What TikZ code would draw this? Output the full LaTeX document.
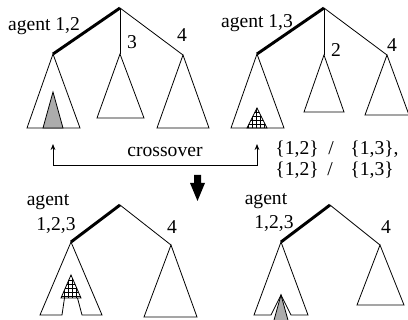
\documentclass[tikz,border=0pt]{standalone}
\usepackage{fontspec}
\setmainfont{Liberation Serif}
\usetikzlibrary{patterns,arrows.meta}
\begin{document}
\begin{tikzpicture}[x=0.75pt,y=-0.75pt,line width=0.6pt,line join=miter,
  heavy/.style={line width=2.2pt},
  lbl/.style={anchor=base,inner sep=0pt,font=\fontsize{14.7}{17}\selectfont},
  grey/.style={fill=gray!65,draw=black},
  grid hatch/.style={pattern=grid,draw=black},
  smallarr/.style={-{Stealth[length=4.5pt,width=3.5pt]}}]
\useasboundingbox (0,0) rectangle (408,320);
\clip (0,0) rectangle (408,320);
% ---------- top-left tree ----------
\coordinate (r1) at (120,8);
\coordinate (a1) at (53,54);
\coordinate (b1) at (120,54);
\coordinate (c1) at (183,55);
\draw[heavy] (r1) -- (a1);
\draw (r1) -- (b1);
\draw (r1) -- (c1);
\draw (a1) -- (27,128) -- (80,128) -- cycle;
\draw[grey] (53,92) -- (43,128) -- (63,128) -- cycle;
\draw (b1) -- (97,118) -- (144,118) -- cycle;
\draw (c1) -- (157,128) -- (209,128) -- cycle;
\node[lbl] (t1) at (44,31) {agent 1,2};
\node[lbl] (t1b) at (132,49) {3};
\node[lbl] (t1c) at (182,42) {4};
% ---------- top-right tree ----------
\coordinate (r2) at (324,8);
\coordinate (a2) at (257,54);
\coordinate (b2) at (324,55);
\coordinate (c2) at (387,55);
\draw[heavy] (r2) -- (a2);
\draw (r2) -- (b2);
\draw (r2) -- (c2);
\draw (a2) -- (231,128) -- (284,128) -- cycle;
\draw[grid hatch] (257,108) -- (247,128) -- (267,128) -- cycle;
\draw (b2) -- (304,112) -- (344,112) -- cycle;
\draw (c2) -- (365,115) -- (409,115) -- cycle;
\node[lbl] (t2) at (257,28) {agent 1,3};
\node[lbl] (t2b) at (336,57) {2};
\node[lbl] (t2c) at (392,52) {4};
% ---------- crossover ----------
\coordinate (xl) at (53,144);
\coordinate (xr) at (257,144);
\draw[smallarr] (53,165) -- (xl);
\draw[smallarr] (53,165) -- (257,165) -- (xr);
\node[lbl] (xo) at (165,157) {crossover};
\node[lbl,anchor=base west] (s1a) at (275,155) {\{1,2\}};
\node[lbl] (s1b) at (331,155) {/};
\node[lbl,anchor=base west] (s1c) at (350,155) {\{1,3\},};
\node[lbl,anchor=base west] (s2a) at (275,176) {\{1,2\}};
\node[lbl] (s2b) at (330,176) {/};
\node[lbl,anchor=base west] (s2c) at (350,176) {\{1,3\}};
\fill (194,175) -- (201,175) -- (201,183) -- (205,183) -- (197.5,201)
  -- (190,183) -- (194,183) -- cycle;
% ---------- bottom-left tree ----------
\coordinate (r3) at (120,205);
\coordinate (a3) at (71,242);
\coordinate (c3) at (171,245);
\draw[heavy] (r3) -- (a3);
\draw (r3) -- (c3);
\draw (64.5,298) -- (62,315) -- (40,315) -- (a3) -- (102,315) -- (82,315) -- (77.5,298);
\draw[grid hatch] (71,275) -- (61,298) -- (81,298) -- cycle;
\draw (c3) -- (144,317) -- (197,317) -- cycle;
\node[lbl] (t3) at (48,206) {agent};
\node[lbl] (t3b) at (56,231) {1,2,3};
\node[lbl] (t3c) at (172,234) {4};
% ---------- bottom-right tree ----------
\coordinate (r4) at (330,205);
\coordinate (a4) at (281,242);
\coordinate (c4) at (380,245);
\draw[heavy] (r4) -- (a4);
\draw (r4) -- (c4);
\draw[grey] (281,295) -- (271,331) -- (291,331) -- cycle;
\draw (a4) -- (254,315) -- (271,315) -- (281,295) -- (291,315) -- (308,315) -- cycle;
\draw (c4) -- (357,305) -- (404,305) -- cycle;
\node[lbl] (t4) at (266,205) {agent};
\node[lbl] (t4b) at (274,229) {1,2,3};
\node[lbl] (t4c) at (386,234) {4};
\end{tikzpicture}
\end{document}
